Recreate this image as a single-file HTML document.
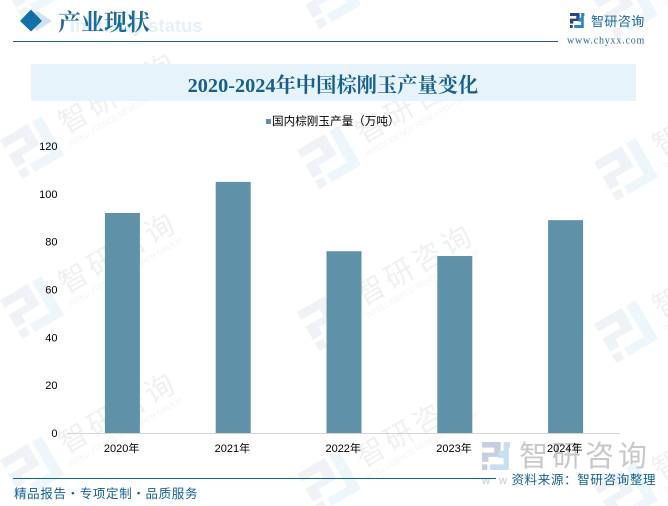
<!DOCTYPE html>
<html><head><meta charset="utf-8"><style>
html,body{margin:0;padding:0;background:#fff}
#page{position:relative;width:668px;height:506px;overflow:hidden;background:#fff;font-family:"Liberation Sans","Noto Sans CJK SC",sans-serif}
svg{position:absolute;left:0;top:0}
</style></head><body>
<div id="page">
<svg id="chart" width="668" height="506" viewBox="0 0 668 506" xmlns="http://www.w3.org/2000/svg"></svg>
</div>
<script>
const categories = ['2020年','2021年','2022年','2023年','2024年'];
const productionValues = [92,105,76,74,89];
const tickLabels = [0,20,40,60,80,100,120];
const NS='http://www.w3.org/2000/svg';
const svg=document.getElementById('chart');
function mk(tag,attrs,text,parent){
  const e=document.createElementNS(NS,tag);
  for(const k in attrs)e.setAttribute(k,attrs[k]);
  if(text!==undefined&&text!==null)e.textContent=text;
  (parent||svg).appendChild(e);
  return e;
}
const serif='"Liberation Serif","Noto Serif CJK SC",serif';
const sans='"Liberation Sans","Noto Sans CJK SC",sans-serif';
const axisLeft=67,axisRight=621,axisBottom=433,axisTop=146,axisMax=120;
function xBand(i){return axisLeft+(axisRight-axisLeft)*(i+0.5)/categories.length;}
function yScale(v){return axisBottom-(axisBottom-axisTop)*v/axisMax;}

const logoGrayPath='M0 0H32V24H11V32H0V17H21V9H0ZM0 36H9V45H0Z';
const logoBluePath='M37 0H48V9H46V45H14V36H37ZM37 14V26H28V14Z';

/* watermarks */
const wmLayer=mk('g',{});


const wmOrigins=[[0,-20],[0,140],[0,300],[0,460],[297,-10],[297,150],[297,312],[297,474],[594,0],[594,162],[594,324],[594,486]];
wmOrigins.forEach(function(o){
  const g=mk('g',{transform:'translate('+o[0]+','+o[1]+') rotate(-30)'},null,wmLayer);
  
  
  mk('path',{d:logoGrayPath,fill:'#eff2f6'},null,g);
  mk('path',{d:'M37 0H48V45H14V36H37Z',fill:'#ecf6fb'},null,g);
  mk('text',{x:60,y:28,'font-size':29,fill:'#f0f0f0','font-family':sans,'letter-spacing':4},'智研咨询',g);
  mk('text',{x:58,y:41,'font-size':8,fill:'#f3f3f3','font-family':sans,textLength:130},'INTELLIGENCE RESEARCH GROUP',g);
});

/* header */
const ghost=mk('text',{x:70,y:32,'font-size':18.500,'font-weight':'bold',fill:'#e3f1fa','font-family':sans},'Industry status');


const d2=mk('path',{d:'M37 11L52 21L37 31L26 21Z',fill:'#d3e3ee'});


const d1=mk('path',{d:'M31 9.500L42 21L31 31.500L20 21Z',fill:'#1170aa'});


const ht=mk('text',{x:58,y:30,'font-size':23,'font-weight':'bold',fill:'#1a6b9e','font-family':serif},'产业现状');


const hl=mk('rect',{x:13,y:41,width:545,height:1,fill:'#1f5f85'});



/* logo top right */
const logo=mk('g',{});


const lmark=mk('g',{transform:'translate(570,13) scale(0.3,0.333)'},null,logo);
mk('path',{d:logoGrayPath,fill:'#24458f'},null,lmark);
mk('path',{d:logoBluePath,fill:'#2f86c6'},null,lmark);
mk('text',{x:591,y:26,'font-size':13,fill:'#1b6a9e','font-family':sans,'letter-spacing':0.400},'智研咨询',logo);
const url=mk('text',{x:567,y:43.500,'font-size':10,fill:'#2a6a94','font-family':serif,'letter-spacing':0.800},'www.chyxx.com');



/* title band */
const band=mk('rect',{x:31,y:64,width:605,height:37,fill:'#e6f3fb'});


const title=mk('text',{x:333,y:92,'font-size':20.300,'font-weight':'bold',fill:'#17608e','text-anchor':'middle','font-family':serif},'2020-2024年中国棕刚玉产量变化');



/* legend */
const lm=mk('rect',{x:266,y:119,width:5,height:5,fill:'#5f92a9'});


const lt=mk('text',{x:272,y:125,'font-size':11.600,fill:'#000','font-family':sans},'国内棕刚玉产量（万吨）');



/* y ticks */
tickLabels.forEach(function(v){
  const t=mk('text',{x:57.500,y:yScale(v)+4,'font-size':11,fill:'#000','text-anchor':'end','font-family':sans},v);
  
  
});

/* bars */
const barWidth=35;
productionValues.forEach(function(v,i){
  const r=mk('rect',{x:xBand(i)-barWidth/2,y:yScale(v),width:barWidth,height:axisBottom-yScale(v),fill:'#5f92a9'});
  
  
});

/* x axis */
const ax=mk('rect',{x:axisLeft,y:axisBottom,width:553,height:1,fill:'#d5d5d5'});



/* big watermark bottom right */
const bw=mk('g',{});


const bmark=mk('g',{transform:'translate(482,442) scale(0.583,0.622)'},null,bw);
mk('path',{d:logoGrayPath,fill:'#c5cde0'},null,bmark);
mk('path',{d:logoBluePath,fill:'#c6dff1'},null,bmark);
mk('text',{x:519,y:466,'font-size':29,fill:'#c8c8c8','font-family':sans,'letter-spacing':4},'智研咨询',bw);
mk('text',{x:482,y:484,'font-size':11,fill:'#c8c8c8','font-family':sans,'letter-spacing':3},'w w',bw);

categories.forEach(function(c,i){
  const t=mk('text',{x:xBand(i)-0.800,y:452,'font-size':11,fill:'#000','text-anchor':'middle','font-family':sans},c);
  
  
});

/* footer */
const fl=mk('rect',{x:13,y:478,width:483,height:1,fill:'#0f6298'});


const ft=mk('text',{x:14,y:498,'font-size':12.500,fill:'#126199','font-family':sans,'letter-spacing':0.650},'精品报告・专项定制・品质服务');


const src=mk('text',{x:511.500,y:484,'font-size':12.500,fill:'#126199','font-family':sans,'letter-spacing':0.650},'资料来源：智研咨询整理');


</script>
</body></html>
